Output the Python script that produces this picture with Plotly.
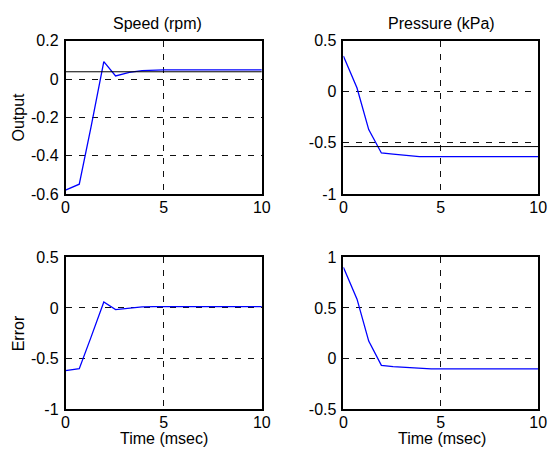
import plotly.graph_objects as go

W, H = 557, 466

# ---- data ----
time = [0, 0.7, 1.3, 1.95, 2.55, 3.25, 3.9, 4.5, 5, 6, 7, 8, 9, 10]
speed_out = [-0.58, -0.549, -0.25, 0.091, 0.016, 0.035, 0.044, 0.048, 0.048, 0.048, 0.048, 0.048, 0.048, 0.048]
pressure_out = [0.35, 0.037, -0.37, -0.599, -0.61, -0.623, -0.634, -0.635, -0.635, -0.635, -0.635, -0.635, -0.635, -0.635]
speed_err = [-0.618, -0.599, -0.288, 0.058, -0.016, 0.0, 0.01, 0.012, 0.012, 0.012, 0.012, 0.012, 0.012, 0.012]
pressure_err = [0.901, 0.587, 0.173, -0.067, -0.078, -0.088, -0.099, -0.101, -0.102, -0.102, -0.102, -0.102, -0.102, -0.102]
speed_ref = 0.038
pressure_ref = -0.536
ref_time = [0, 10]

x_ticks = [0, 5, 10]
x_ticktext = ["0", "5", "10"]
tl_ticks = [-0.6, -0.4, -0.2, 0, 0.2]
tl_text = ["-0.6", "-0.4", "-0.2", "0", "0.2"]
tr_ticks = [-1, -0.5, 0, 0.5]
tr_text = ["-1", "-0.5", "0", "0.5"]
bl_ticks = [-1, -0.5, 0, 0.5]
bl_text = ["-1", "-0.5", "0", "0.5"]
br_ticks = [-0.5, 0, 0.5, 1]
br_text = ["-0.5", "0", "0.5", "1"]

titles = ["Speed (rpm)", "Pressure (kPa)"]
ylabels = ["Output", "Error"]
xlabel = "Time (msec)"

FONT = "Liberation Sans, Arial, sans-serif"
FS = 16
BLUE = "#0000ff"

# pixel boxes of the four axes (left, right, top, bottom)
boxes = [(63, 264, 34, 193), (347.5, 547, 34, 193), (63, 264, 258.7, 416.5), (347.5, 547, 258.7, 416.5)]

fig = go.Figure()

series = [(speed_out, speed_ref), (pressure_out, pressure_ref), (speed_err, None), (pressure_err, None)]
yinfo = [((-0.6, 0.2), tl_ticks, tl_text), ((-1, 0.5), tr_ticks, tr_text),
         ((-1, 0.5), bl_ticks, bl_text), ((-0.5, 1), br_ticks, br_text)]

for i, ((ys, ref), (yr, tv, tt), (l, r, t, b)) in enumerate(zip(series, yinfo, boxes)):
    k = "" if i == 0 else str(i + 1)
    fig.add_trace(go.Scatter(x=time, y=ys, mode="lines", line=dict(color=BLUE, width=1.3),
                             xaxis="x" + k, yaxis="y" + k, showlegend=False, hoverinfo="skip"))
    if ref is not None:
        fig.add_trace(go.Scatter(x=ref_time, y=[ref, ref], mode="lines", line=dict(color="black", width=1),
                                 xaxis="x" + k, yaxis="y" + k, showlegend=False, hoverinfo="skip"))
    common = dict(showline=True, linecolor="black", linewidth=1.5, mirror=True,
                  showgrid=True, gridcolor="#111", gridwidth=1, griddash="6px,7px",
                  zeroline=False, ticks="", tickfont=dict(family=FONT, size=FS, color="black"))
    fig.layout["xaxis" + k] = dict(common, domain=[l / W, r / W], range=[0, 10], anchor="y" + k,
                                   tickmode="array", tickvals=x_ticks, ticktext=x_ticktext,
                                   ticklabelstandoff=-2)
    fig.layout["yaxis" + k] = dict(common, domain=[1 - b / H, 1 - t / H], range=list(yr), anchor="x" + k,
                                   tickmode="array", tickvals=tv, ticktext=tt, ticklabelstandoff=2)

ann = []
def add_text(text, px, py, angle=0):
    ann.append(dict(text=text, x=px / W, y=1 - py / H, xref="paper", yref="paper",
                    showarrow=False, xanchor="center", yanchor="middle", textangle=angle,
                    font=dict(family=FONT, size=FS, color="black")))

add_text(titles[0], 157, 16)
add_text(titles[1], 448, 16)
add_text(ylabels[0], 15, 113, -90)
add_text(ylabels[1], 15, 338, -90)
add_text(xlabel, 164, 447)
add_text(xlabel, 448, 447)

fig.update_layout(width=W, height=H, margin=dict(l=0, r=0, t=0, b=0),
                  paper_bgcolor="white", plot_bgcolor="white", annotations=ann,
                  font=dict(family=FONT, size=FS, color="black"))

fig.write_html("out.html", config={"displayModeBar": False},
               post_script="document.body.style.margin='0';document.body.style.padding='0';")
